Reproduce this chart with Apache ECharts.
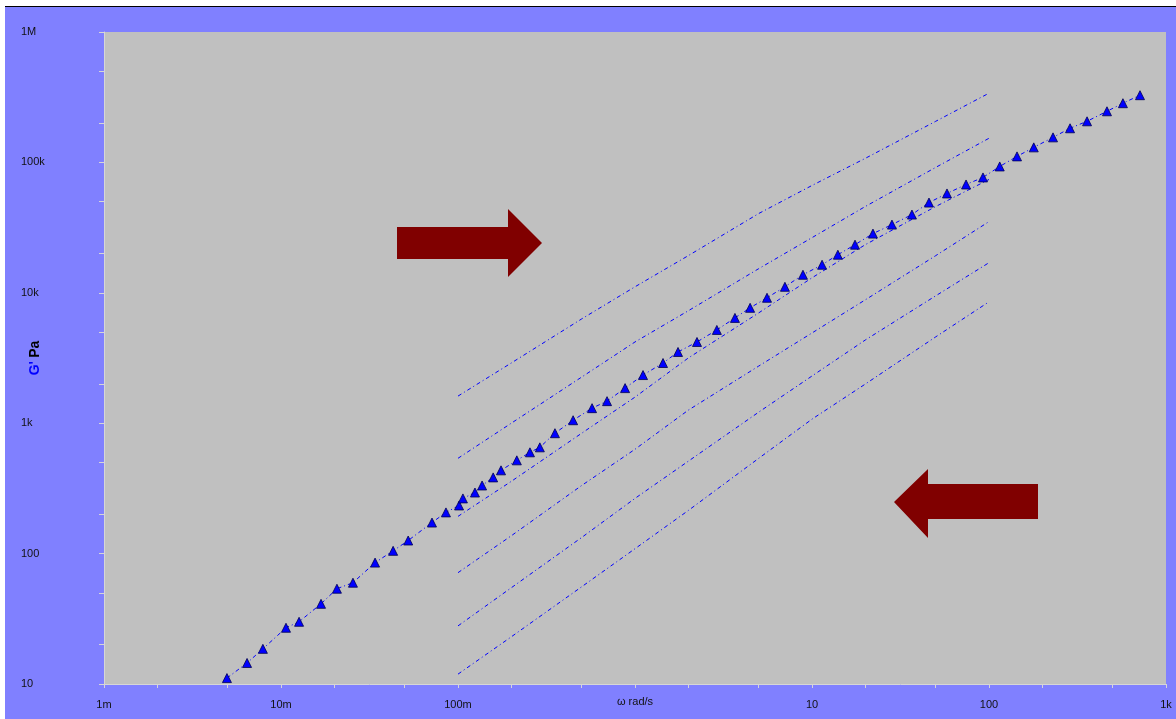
<!DOCTYPE html>
<html>
<head>
<meta charset="utf-8">
<script src="https://cdn.jsdelivr.net/npm/echarts@6/dist/echarts.min.js"></script>
<style>
html,body{margin:0;padding:0;background:#ffffff;width:1176px;height:719px;overflow:hidden;}
#bg{position:absolute;left:5px;top:6px;width:1171px;height:713px;background:#8080ff;border-top:1px solid #000;box-sizing:border-box;}
#c{position:absolute;left:0;top:0;width:1176px;height:719px;}
</style>
</head>
<body>
<div id="bg"></div>
<div id="c"></div>
<script>
// Frequency points of the six measured curves (rad/s)
const omegaLines = [0.1, 0.2, 0.5, 1, 2, 5, 10, 20, 50, 100];
// G' (Pa) of the six measured curves, top to bottom
const g1 = [1614, 2895, 6310, 11120, 19270, 40550, 66530, 107400, 206600, 339600];
const g2 = [538, 1000, 2259, 4198, 7278, 15310, 26480, 45890, 91550, 153100];
const g3 = [193, 358, 838, 1585, 3162, 7015, 13030, 23390, 45890, 73960];
const g4 = [71.4, 137, 333, 631, 1259, 2742, 4920, 8830, 19270, 35160];
const g5 = [27.9, 54.7, 133, 265, 511, 1216, 2301, 4345, 9480, 17020];
const g6 = [11.9, 23.0, 55.7, 109, 214, 538, 1074, 1995, 4592, 8531];

// Master curve (shifted data, triangles)
const masterOmega = [0.00495,0.00643,0.0079,0.01067,0.01265,0.01683,0.0207,0.0255,0.034,0.043,0.0523,0.0713,0.0855,0.1014,0.1066,0.1247,0.1368,0.158,0.175,0.215,0.255,0.29,0.353,0.447,0.572,0.695,0.879,1.11,1.44,1.75,2.24,2.90,3.67,4.47,5.57,7.03,8.89,11.4,14.0,17.5,22.1,28.3,36.7,45.8,57.9,74.2,92.5,115,144,179,230,287,358,464,571,713];
const masterG = [11.1,14.5,18.6,27.0,30.0,41.2,53.8,59.8,85.3,105,126,173,207,234,265,294,333,384,435,519,598,653,838,1054,1304,1476,1858,2340,2895,3518,4198,5190,6420,7670,9160,11120,13750,16410,19590,23390,28440,33340,39810,49200,57780,67720,76700,93100,111200,130400,155600,182700,206600,246600,284400,327600];

// Axis tick labels
const xTickValues = [0.001, 0.01, 0.1, 1, 10, 100, 1000];
const xTickLabels = ['1m', '10m', '100m', '', '10', '100', '1k'];
const yTickValues = [10, 100, 1000, 10000, 100000, 1000000];
const yTickLabels = ['10', '100', '1k', '10k', '100k', '1M'];

function minorTicks(vals) {
  const out = [];
  for (let i = 0; i < vals.length; i++) {
    out.push(vals[i]);
    if (i < vals.length - 1) { out.push(vals[i] * 2); out.push(vals[i] * 5); }
  }
  return out;
}
function labelFor(values, labels) {
  return function (v) {
    for (let i = 0; i < values.length; i++) {
      if (Math.abs(Math.log10(v) - Math.log10(values[i])) < 1e-6) return labels[i];
    }
    return '';
  };
}
function pairs(xs, ys) { return xs.map((x, i) => [x, ys[i]]); }

const lineColor = '#0000ff';
const dashDot = [4, 3, 1, 3];
const font = 'Liberation Sans, Arial, sans-serif';
const lineSeries = [g1, g2, g3, g4, g5, g6].map((g) => ({
  type: 'line',
  data: pairs(omegaLines, g),
  showSymbol: false,
  symbol: 'none',
  lineStyle: { color: lineColor, width: 1, type: dashDot },
  silent: true,
  z: 2
}));

const chart = echarts.init(document.getElementById('c'), null, { renderer: 'canvas' });
const axisGray = '#d6d6d6';
chart.setOption({
  animation: false,
  backgroundColor: 'transparent',
  grid: { left: 104, right: 10, top: 32, bottom: 35, show: true, backgroundColor: '#c0c0c0', borderWidth: 0, outerBoundsMode: 'none', containLabel: false },
  xAxis: {
    type: 'log', logBase: 10, min: 0.001, max: 1000,
    name: 'ω rad/s', nameLocation: 'middle', nameGap: 12, nameMoveOverlap: false,
    nameTextStyle: { color: '#111', fontSize: 11, fontFamily: font },
    axisLine: { show: true, lineStyle: { color: axisGray, width: 1 } },
    axisTick: { show: true, length: 4, inside: false, customValues: minorTicks(xTickValues), lineStyle: { color: axisGray } },
    axisLabel: { customValues: xTickValues, formatter: labelFor(xTickValues, xTickLabels), color: '#111', fontSize: 11, margin: 15, fontFamily: font, hideOverlap: false },
    splitLine: { show: false }
  },
  yAxis: {
    type: 'log', logBase: 10, min: 10, max: 1000000,
    name: "{b|G'} {k|Pa}", nameLocation: 'middle', nameGap: 62, nameRotate: 90, nameMoveOverlap: false,
    nameTextStyle: {
      rich: {
        b: { color: '#0000ff', fontWeight: 'bold', fontSize: 14, fontFamily: font },
        k: { color: '#000', fontWeight: 'bold', fontSize: 14, fontFamily: font }
      }
    },
    axisLine: { show: true, lineStyle: { color: axisGray, width: 1 } },
    axisTick: { show: true, length: 5, inside: false, customValues: minorTicks(yTickValues), lineStyle: { color: axisGray } },
    axisLabel: { customValues: yTickValues, formatter: labelFor(yTickValues, yTickLabels), color: '#111', fontSize: 11, margin: 83, align: 'left', fontFamily: font },
    splitLine: { show: false }
  },
  series: lineSeries.concat([{
    type: 'line',
    data: pairs(masterOmega, masterG),
    symbol: 'triangle',
    symbolSize: 9,
    showAllSymbol: true,
    itemStyle: { color: '#0000ff', borderColor: '#000050', borderWidth: 0.8 },
    lineStyle: { color: lineColor, width: 1, type: dashDot },
    silent: true,
    z: 3
  }]),
  graphic: [
    { type: 'polygon', silent: true, z: 10,
      shape: { points: [[397,227],[508,227],[508,209],[542,243],[508,277],[508,259],[397,259]] },
      style: { fill: '#800000' } },
    { type: 'polygon', silent: true, z: 10,
      shape: { points: [[1038,484],[928,484],[928,469],[894,502],[928,538],[928,519],[1038,519]] },
      style: { fill: '#800000' } }
  ]
});
</script>
</body>
</html>
